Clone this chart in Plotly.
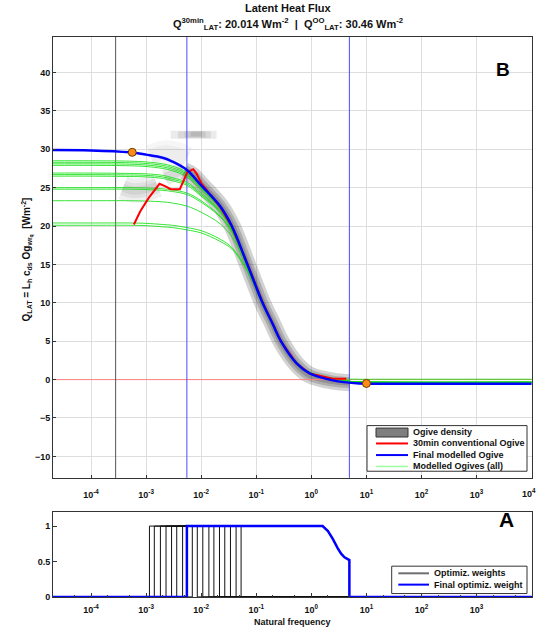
import math
import plotly.graph_objects as go

# ---------------- data ----------------
freq = [2e-5, 1e-4, 5e-4, 1e-3, 2e-3, 3e-3, 5.5e-3, 1e-2, 2.2e-2, 3.6e-2, 6.9e-2,
        0.13, 0.2, 0.28, 0.54, 0.93, 2.45, 7.4, 20, 1e4]
final_ogive = [29.9, 29.85, 29.6, 29.3, 28.9, 28.4, 27.3, 25.3, 22.6, 20.0, 15.0,
               10.0, 7.2, 5.0, 2.1, 0.8, -0.1, -0.5, -0.55, -0.55]
green_ogives = [
    [28.5, 28.5, 28.45, 28.35, 28.1, 27.8, 27.0, 25.2, 22.6, 20.1, 15.2, 10.3, 7.4, 5.2, 2.3, 1.0, 0.2, 0.05, 0.05, 0.05],
    [28.3, 28.3, 28.25, 28.15, 27.9, 27.6, 26.8, 25.0, 22.5, 20.0, 15.1, 10.2, 7.3, 5.1, 2.2, 0.9, 0.0, -0.3, -0.3, -0.3],
    [28.1, 28.1, 28.05, 27.95, 27.7, 27.4, 26.6, 24.9, 22.4, 19.9, 15.1, 10.2, 7.3, 5.1, 2.2, 0.9, 0.0, -0.3, -0.35, -0.35],
    [27.9, 27.9, 27.85, 27.75, 27.5, 27.2, 26.4, 24.7, 22.3, 19.9, 15.0, 10.1, 7.2, 5.0, 2.1, 0.85, -0.05, -0.35, -0.4, -0.4],
    [26.9, 26.9, 26.85, 26.8, 26.6, 26.3, 25.7, 24.3, 22.0, 19.7, 15.0, 10.1, 7.2, 5.0, 2.1, 0.85, 0.0, -0.3, -0.35, -0.35],
    [26.7, 26.7, 26.65, 26.6, 26.4, 26.1, 25.5, 24.1, 21.9, 19.6, 14.9, 10.1, 7.2, 5.0, 2.1, 0.85, 0.0, -0.3, -0.35, -0.35],
    [26.5, 26.5, 26.45, 26.4, 26.2, 25.9, 25.3, 23.9, 21.8, 19.5, 14.9, 10.0, 7.1, 5.0, 2.1, 0.8, -0.05, -0.35, -0.4, -0.4],
    [25.0, 25.0, 25.0, 24.95, 24.85, 24.7, 24.3, 23.3, 21.3, 19.3, 14.8, 10.0, 7.1, 4.9, 2.1, 0.8, 0.0, -0.3, -0.35, -0.35],
    [24.8, 24.8, 24.8, 24.75, 24.65, 24.5, 24.1, 23.1, 21.2, 19.2, 14.8, 10.0, 7.1, 4.9, 2.1, 0.8, 0.0, -0.3, -0.35, -0.35],
    [23.3, 23.3, 23.3, 23.25, 23.15, 23.0, 22.6, 21.8, 20.3, 18.6, 14.6, 9.9, 7.0, 4.9, 2.0, 0.8, -0.05, -0.35, -0.4, -0.4],
    [20.4, 20.4, 20.4, 20.35, 20.2, 20.1, 19.8, 19.4, 18.3, 17.2, 14.2, 9.8, 7.0, 4.9, 2.0, 0.8, 0.0, -0.3, -0.35, -0.35],
    [20.1, 20.1, 20.1, 20.05, 19.9, 19.8, 19.5, 19.1, 18.0, 17.0, 14.1, 9.8, 7.0, 4.9, 2.0, 0.8, 0.0, -0.3, -0.35, -0.35],
]
conv_f = [6e-4, 7.8e-4, 1.1e-3, 1.4e-3, 1.75e-3, 2.2e-3, 2.8e-3, 4.1e-3, 4.9e-3, 5.6e-3,
          7.2e-3, 8.3e-3, 1e-2, 1.5e-2, 2.2e-2, 3.6e-2, 6.9e-2, 0.13, 0.2, 0.28, 0.54, 0.93, 2.45, 4.3]
conv_v = [20.2, 21.9, 23.6, 24.6, 25.5, 25.2, 24.8, 24.8, 26.2, 27.0,
          27.4, 26.8, 25.6, 24.0, 22.5, 19.9, 15.1, 10.1, 7.2, 5.0, 2.1, 0.8, 0.1, 0.1]

# ogive density ridges (grey cloud)
dens_band_f = [5e-3, 7e-3, 1e-2, 2.2e-2, 3.6e-2, 6.9e-2, 0.13, 0.2, 0.28, 0.54, 0.93, 2.45, 5.0]
dens_band_v = [27.2, 26.6, 25.4, 22.7, 20.1, 15.0, 10.0, 7.2, 5.0, 2.0, 0.6, -0.2, -0.4]
dens_streak_f = [[2.8e-3, 1.9e-2], [3.8e-3, 1.5e-2], [5e-3, 1.2e-2], [6.5e-3, 1e-2]]
dens_streak_v = [[31.9, 31.9], [31.9, 31.9], [31.95, 31.95], [32.0, 32.0]]
dens_cloud_f = [3.8e-4, 6e-4, 1e-3, 1.6e-3]
dens_cloud_v = [25.0, 24.6, 24.8, 25.3]
dens_blob_f = [2.2e-3, 3.2e-3, 4.8e-3]
dens_blob_v = [26.3, 26.8, 27.2]
dens_upper_f = [1.2e-3, 2.2e-3, 3.5e-3, 5.5e-3]
dens_upper_v = [29.0, 29.6, 29.4, 28.8]

marker_f = [5.6e-4, 10.0]
marker_v = [29.6, -0.5]
black_line_f = 2.8e-4
fit_range_f = [5.5e-3, 4.9]

# weights (bottom panel)
win_start = [1.15e-3, 1.41e-3, 1.82e-3, 2.3e-3, 2.9e-3, 3.6e-3, 4.6e-3, 5.6e-3, 6.9e-3]
win_end = [8.5e-3, 1.07e-2, 1.38e-2, 1.7e-2, 2.15e-2, 2.68e-2, 3.4e-2, 4.3e-2, 5.3e-2]
final_w_f = [1e-5, 5.5e-3, 5.5e-3, 1.6, 2.0, 2.45, 3.0, 3.47, 4.0, 4.56, 4.9, 4.9, 1e5]
final_w_v = [0, 0, 1, 1, 0.93, 0.82, 0.69, 0.61, 0.56, 0.535, 0.52, 0, 0]

x_ticks_top = [1e-4, 1e-3, 1e-2, 1e-1, 1e0, 1e1, 1e2, 1e3, 1e4]
x_ticks_bot = [1e-4, 1e-3, 1e-2, 1e-1, 1e0, 1e1, 1e2, 1e3]
y_ticks_top = [-10, -5, 0, 5, 10, 15, 20, 25, 30, 35, 40]
y_ticks_bot = [0, 0.5, 1]
top_legend_labels = ["Ogive density", "30min conventional Ogive", "Final modelled Ogive", "Modelled Ogives (all)"]
bot_legend_labels = ["Optimiz. weights", "Final optimiz. weight"]

# ---------------- layout geometry ----------------
W, H = 538, 631
XR = [-4.69, 4.0]
YR_TOP = [-12.8, 44.66]
YR_BOT = [0, 1.2]
FONT = "Liberation Sans, Arial, sans-serif"


def px(x):
    return x / W


def py(y):
    return 1 - y / H


def sup_label(v):
    return "10<sup>%d</sup>" % int(round(math.log10(v)))


fig = go.Figure()


def ridge(f, v, widths, alpha, shape="spline"):
    for w in widths:
        fig.add_trace(go.Scatter(x=f, y=v, mode="lines",
                                 line=dict(color="rgba(30,30,30,%g)" % alpha, width=w, shape=shape),
                                 hoverinfo="skip", showlegend=False, xaxis="x", yaxis="y"))


ridge(dens_upper_f, dens_upper_v, [24, 14], 0.04)
ridge(dens_cloud_f, dens_cloud_v, [24, 15, 8], 0.07)
ridge(dens_blob_f, dens_blob_v, [16, 9], 0.09)
for sf, sv, w in zip(dens_streak_f, dens_streak_v, [8, 7, 6, 5]):
    ridge(sf, sv, [w], 0.09, "linear")
ridge(dens_band_f, dens_band_v, [17, 11, 6], 0.2)

# zero line
fig.add_trace(go.Scatter(x=[1e-5, 1e5], y=[0, 0], mode="lines", line=dict(color="#ff8484", width=1),
                         hoverinfo="skip", showlegend=False, xaxis="x", yaxis="y"))
# vertical lines
fig.add_trace(go.Scatter(x=[black_line_f, black_line_f], y=YR_TOP, mode="lines", line=dict(color="#555555", width=1),
                         hoverinfo="skip", showlegend=False, xaxis="x", yaxis="y"))
for f in fit_range_f:
    fig.add_trace(go.Scatter(x=[f, f], y=YR_TOP, mode="lines", line=dict(color="#4a4aff", width=1),
                             hoverinfo="skip", showlegend=False, xaxis="x", yaxis="y"))
# green modelled ogives
for g in green_ogives:
    fig.add_trace(go.Scatter(x=freq, y=g, mode="lines", line=dict(color="rgba(20,225,20,0.85)", width=1, shape="spline"),
                             hoverinfo="skip", showlegend=False, xaxis="x", yaxis="y"))
# conventional ogive
fig.add_trace(go.Scatter(x=conv_f, y=conv_v, mode="lines", line=dict(color="#ff0000", width=2),
                         showlegend=False, xaxis="x", yaxis="y"))
# final modelled ogive
fig.add_trace(go.Scatter(x=freq, y=final_ogive, mode="lines", line=dict(color="#0000ff", width=2.5, shape="spline"),
                         showlegend=False, xaxis="x", yaxis="y"))
# markers
fig.add_trace(go.Scatter(x=marker_f, y=marker_v, mode="markers",
                         marker=dict(color="#ff8c1a", size=8, line=dict(color="#6b3a00", width=1)),
                         showlegend=False, xaxis="x", yaxis="y"))

# bottom panel: weights
for s, e in zip(win_start, win_end):
    fig.add_trace(go.Scatter(x=[1e-5, s, s, e, e, 1e5], y=[0, 0, 1, 1, 0, 0], mode="lines",
                             line=dict(color="#111111", width=1), showlegend=False, xaxis="x2", yaxis="y2"))
fig.add_trace(go.Scatter(x=final_w_f, y=final_w_v, mode="lines", line=dict(color="#0000ff", width=2.5),
                         showlegend=False, xaxis="x2", yaxis="y2"))

tick_font = dict(family=FONT, size=9, color="#111111", weight="bold")
axis_common = dict(showline=True, linecolor="#333333", linewidth=1, mirror=True, ticks="inside",
                   tickcolor="#333333", zeroline=False, tickfont=tick_font)

# last top tick label sits on the figure edge; it is written as a right-anchored annotation below
top_ticktext = [sup_label(v) for v in x_ticks_top[:-1]] + [""]

fig.update_layout(
    width=W, height=H, margin=dict(l=0, r=0, t=0, b=0),
    paper_bgcolor="white", plot_bgcolor="white", showlegend=False,
    xaxis=dict(type="log", range=XR, domain=[px(53), px(531.7)], anchor="y",
               tickvals=x_ticks_top, ticktext=top_ticktext, ticklabelstandoff=8,
               showgrid=True, gridcolor="#dedede", gridwidth=1, ticklen=3, **axis_common),
    yaxis=dict(range=YR_TOP, domain=[py(481.7), py(37)], anchor="x",
               tickvals=y_ticks_top, showgrid=True, gridcolor="#dedede", gridwidth=1, ticklen=3, **axis_common),
    xaxis2=dict(type="log", range=XR, domain=[px(53), px(531.7)], anchor="y2",
                tickvals=x_ticks_bot, ticktext=[sup_label(v) for v in x_ticks_bot], ticklabelstandoff=4,
                showgrid=False, ticklen=4,
                minor=dict(ticks="inside", ticklen=2, tickcolor="#333333", showgrid=False),
                title=dict(text="Natural frequency", font=dict(family=FONT, size=9, color="#111111", weight="bold"),
                           standoff=4),
                **axis_common),
    yaxis2=dict(range=YR_BOT, domain=[py(601.7), py(516)], anchor="x2",
                tickvals=y_ticks_bot, ticktext=["0", "0.5", "1"], showgrid=False, ticklen=4, **axis_common),
)

ann = []
tfont = dict(family=FONT, size=11, color="#111111", weight="bold")
ann.append(dict(text=sup_label(x_ticks_top[-1]), x=1, y=py(497), xref="paper", yref="paper", xanchor="right",
                yanchor="middle", showarrow=False, font=tick_font))
ann.append(dict(text="Latent Heat Flux", x=px(288), y=py(8), xref="paper", yref="paper", showarrow=False,
                yanchor="middle", font=tfont))
ann.append(dict(text="Q<sup>30min</sup><sub>LAT</sub>: 20.014 Wm<sup>-2</sup>  |  Q<sup>OO</sup><sub>LAT</sub>: 30.46 Wm<sup>-2</sup>",
                x=px(288), y=py(24), xref="paper", yref="paper", showarrow=False, yanchor="middle", font=tfont))
ann.append(dict(text="Q<sub>LAT</sub> = L<sub>h</sub> c<sub>ds</sub> Og<sub>wr<sub>q</sub></sub>  [Wm<sup>-2</sup>]",
                x=px(18), y=py(262), xref="paper", yref="paper", showarrow=False, textangle=-90,
                font=dict(family=FONT, size=10, color="#111111", weight="bold")))
ann.append(dict(text="B", x=px(512), y=py(57), xref="paper", yref="paper", showarrow=False,
                font=dict(family=FONT, size=19, color="black", weight="bold")))
ann.append(dict(text="A", x=px(516), y=py(537), xref="paper", yref="paper", showarrow=False,
                font=dict(family=FONT, size=21, color="black", weight="bold")))

shapes = []
lfont = dict(family=FONT, size=9, color="#111111", weight="bold")
# custom legend (top)
shapes.append(dict(type="rect", xref="paper", yref="paper", x0=px(367), x1=px(527), y0=py(475), y1=py(429),
                   line=dict(color="#333333", width=1), fillcolor="white", layer="above"))
top_rows = [435.7, 447, 458.7, 470.2]
shapes.append(dict(type="rect", xref="paper", yref="paper", x0=px(376), x1=px(408), y0=py(440.5), y1=py(431.5),
                   line=dict(color="#333333", width=1), fillcolor="#7f7f7f", layer="above"))
for yy, col, w in [(top_rows[1], "#ff0000", 2), (top_rows[2], "#0000ff", 2), (top_rows[3], "#9cff9c", 1.5)]:
    shapes.append(dict(type="line", xref="paper", yref="paper", x0=px(376), x1=px(408), y0=py(yy), y1=py(yy),
                       line=dict(color=col, width=w), layer="above"))
for lab, yy in zip(top_legend_labels, top_rows):
    ann.append(dict(text=lab, x=px(411), y=py(yy), xref="paper", yref="paper", xanchor="left", yanchor="middle",
                    showarrow=False, font=lfont))
# custom legend (bottom)
shapes.append(dict(type="rect", xref="paper", yref="paper", x0=px(391.7), x1=px(527), y0=py(598.3), y1=py(570.7),
                   line=dict(color="#333333", width=1), fillcolor="white", layer="above"))
bot_rows = [577.9, 589.3]
for yy, col in [(bot_rows[0], "#6e6e6e"), (bot_rows[1], "#0000ff")]:
    shapes.append(dict(type="line", xref="paper", yref="paper", x0=px(398.3), x1=px(429), y0=py(yy), y1=py(yy),
                       line=dict(color=col, width=2), layer="above"))
for lab, yy in zip(bot_legend_labels, bot_rows):
    ann.append(dict(text=lab, x=px(432), y=py(yy), xref="paper", yref="paper", xanchor="left", yanchor="middle",
                    showarrow=False, font=lfont))

fig.update_layout(annotations=ann, shapes=shapes)
fig.write_html("out.html")
